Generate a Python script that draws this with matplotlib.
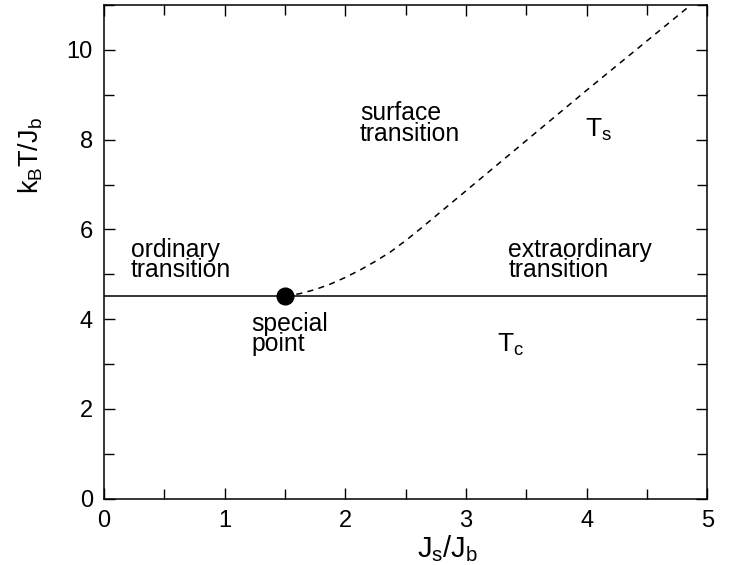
import matplotlib
matplotlib.use("Agg")
import matplotlib.pyplot as plt
from matplotlib.ticker import MultipleLocator

plt.rcParams['font.family'] = ['Liberation Sans', 'DejaVu Sans']
plt.rcParams['mathtext.fontset'] = 'custom'
plt.rcParams['mathtext.rm'] = 'Liberation Sans'
plt.rcParams['mathtext.it'] = 'Liberation Sans'

# Data
tc_value = 4.51
special_x = [1.5]
special_y = [4.51]
ts_x = [1.5, 1.625, 1.75, 1.875, 2.0, 2.125, 2.25, 2.375, 2.5, 2.625, 2.75, 2.875, 3.0, 3.5, 4.0, 4.5, 5.0]
ts_y = [4.51, 4.57, 4.66, 4.78, 4.93, 5.1, 5.29, 5.5, 5.75, 6.02, 6.3, 6.58, 6.86, 7.98, 9.1, 10.2, 11.3]
x_ticks = [0, 1, 2, 3, 4, 5]
y_ticks = [0, 2, 4, 6, 8, 10]

fig = plt.figure(figsize=(7.37, 5.65), dpi=100)
ax = fig.add_axes([0.1411, 0.1173, 0.9597 - 0.1411, 0.9912 - 0.1173])

ax.axhline(tc_value, color='black', lw=1.1)
ax.plot(ts_x, ts_y, color='black', lw=1.1, dashes=(4, 3.5))
ax.plot(special_x, special_y, 'o', color='black', markersize=12, zorder=5)

ax.set_xlim(0, 5)
ax.set_ylim(0, 11)
ax.set_xticks(x_ticks)
ax.set_yticks(y_ticks)
ax.xaxis.set_minor_locator(MultipleLocator(0.5))
ax.yaxis.set_minor_locator(MultipleLocator(1))
ax.tick_params(which='both', direction='in', top=True, right=True, labelsize=17, width=1.0)
ax.tick_params(which='major', length=8, pad=8)
ax.tick_params(which='minor', length=7)
for s in ax.spines.values():
    s.set_linewidth(1.1)

ax.set_xlabel(r'$\mathregular{J_s/J_b}$', fontsize=21, va='center')
ax.xaxis.set_label_coords(0.569, -0.100)
ax.set_ylabel(r'$\mathregular{k_BT/J_b}$', fontsize=19.5, va='center')
ax.yaxis.set_label_coords(-0.122, 0.695)

fs = 17.8
ax.text(2.12, 8.36, 'surface\ntransition', fontsize=fs, ha='left', va='center', linespacing=0.8)
ax.text(3.99, 8.21, r'$\mathregular{T_s}$', fontsize=19, ha='left', va='center')
ax.text(0.224, 5.32, 'ordinary\ntransition', fontsize=fs, ha='left', va='center', linespacing=0.8)
ax.text(3.35, 5.32, 'extraordinary\ntransition', fontsize=fs, ha='left', va='center', linespacing=0.8)
ax.text(1.22, 3.67, 'special\npoint', fontsize=fs, ha='left', va='center', linespacing=0.8)
ax.text(3.26, 3.42, r'$\mathregular{T_c}$', fontsize=19, ha='left', va='center')

fig.savefig('out.png', dpi=100)
